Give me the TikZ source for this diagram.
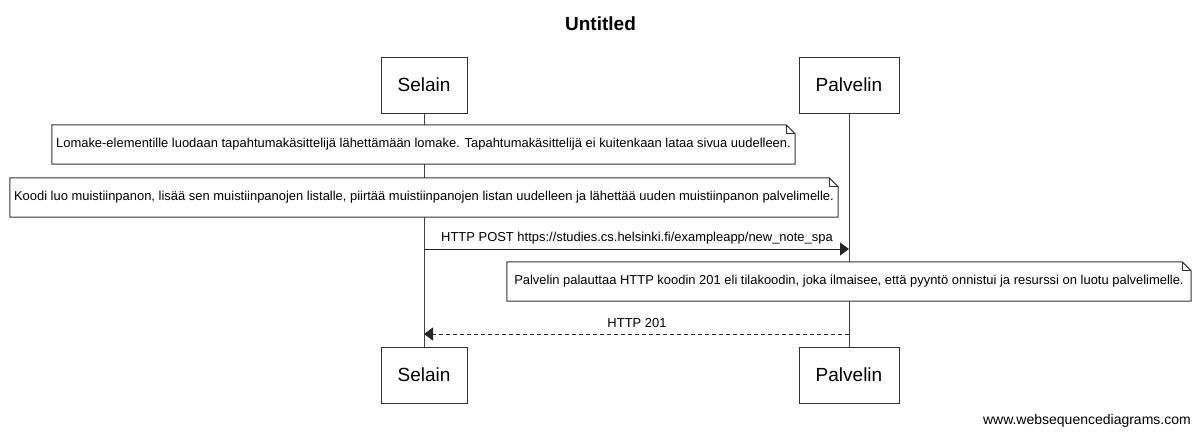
\documentclass[tikz,border=0pt]{standalone}
\usepackage{fontspec}
\setmainfont{Liberation Sans}
\usetikzlibrary{arrows.meta}
\begin{document}
\begin{tikzpicture}[x=1pt,y=-1pt,
  part/.style={draw=black!80,line width=1pt,fill=white,minimum height=56pt,inner sep=0pt,font=\fontsize{19}{22}\selectfont},
  life/.style={draw=black!75,line width=1pt},
  notebox/.style={fill=white,inner sep=0pt,minimum height=39pt,font=\fontsize{12.95}{15}\selectfont},
  noteline/.style={draw=black!80,line width=1pt},
  lbl/.style={inner sep=0pt,font=\fontsize{12.95}{15}\selectfont},
  msg/.style={draw=black!85,line width=1pt,-{Triangle[length=9pt,width=13pt]}},
  reply/.style={msg,dash pattern=on 4pt off 3pt}
]
\useasboundingbox (0,0) rectangle (1200,437);
\fill[white] (0,0) rectangle (1200,437);

\node[inner sep=0pt,font=\bfseries\fontsize{19}{22}\selectfont] (title) at (600.5,24) {Untitled};

\node[part,minimum width=86pt] (s1) at (424,85) {Selain};
\node[part,minimum width=100pt] (p1) at (849,85) {Palvelin};
\node[part,minimum width=86pt] (s2) at (424,375) {Selain};
\node[part,minimum width=100pt] (p2) at (849,375) {Palvelin};

\draw[life] (s1) -- (s2);
\draw[life] (p1) -- (p2);

% note 1
\node[notebox,minimum width=743pt] (n1) at (423.5,144.5) {Lomake-elementille luodaan tapahtumakäsittelijä lähettämään lomake. Tapahtumakäsittelijä ei kuitenkaan lataa sivua uudelleen.};
\draw[noteline] (n1.north west) -- ([xshift=-9pt]n1.north east) -- ([yshift=-9pt]n1.north east) -- (n1.south east) -- (n1.south west) -- cycle;
\draw[noteline] ([xshift=-9pt]n1.north east) -- ([xshift=-9pt,yshift=-9pt]n1.north east) -- ([yshift=-9pt]n1.north east);

% note 2
\node[notebox,minimum width=828pt] (n2) at (424,197.5) {Koodi luo muistiinpanon, lisää sen muistiinpanojen listalle, piirtää muistiinpanojen listan uudelleen ja lähettää uuden muistiinpanon palvelimelle.};
\draw[noteline] (n2.north west) -- ([xshift=-9pt]n2.north east) -- ([yshift=-9pt]n2.north east) -- (n2.south east) -- (n2.south west) -- cycle;
\draw[noteline] ([xshift=-9pt]n2.north east) -- ([xshift=-9pt,yshift=-9pt]n2.north east) -- ([yshift=-9pt]n2.north east);

% message 1
\coordinate (m1a) at (424,249);
\coordinate (m1b) at (849,249);
\draw[msg] (m1a) -- (m1b);
\node[lbl] (l1) at (637,238.5) {HTTP POST https://studies.cs.helsinki.fi/exampleapp/new\_note\_spa};

% note 3
\node[notebox,minimum width=684pt] (n3) at (849,281.5) {Palvelin palauttaa HTTP koodin 201 eli tilakoodin, joka ilmaisee, että pyyntö onnistui ja resurssi on luotu palvelimelle.};
\draw[noteline] (n3.north west) -- ([xshift=-9pt]n3.north east) -- ([yshift=-9pt]n3.north east) -- (n3.south east) -- (n3.south west) -- cycle;
\draw[noteline] ([xshift=-9pt]n3.north east) -- ([xshift=-9pt,yshift=-9pt]n3.north east) -- ([yshift=-9pt]n3.north east);

% message 2
\coordinate (m2a) at (849,334);
\coordinate (m2b) at (424,334);
\draw[reply] (m2a) -- (m2b);
\node[lbl] (l2) at (637,323) {HTTP 201};

\node[inner sep=0pt,anchor=east,font=\fontsize{14}{16}\selectfont] (wm) at (1191,421) {www.websequencediagrams.com};
\end{tikzpicture}
\end{document}
